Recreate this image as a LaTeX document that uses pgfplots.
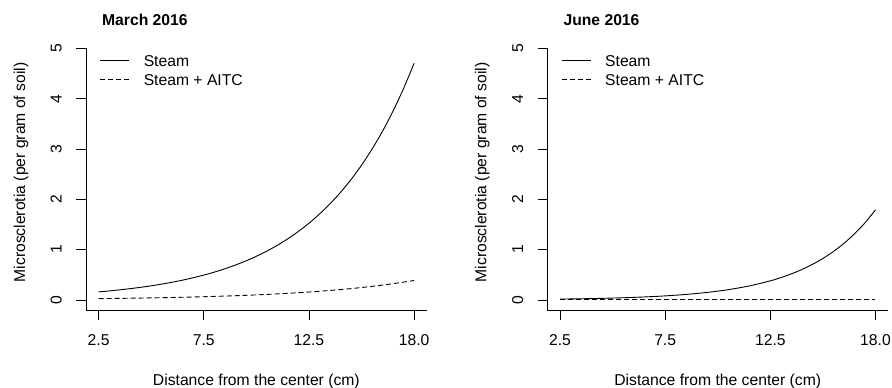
\documentclass[border=0pt]{standalone}
\usepackage{fontspec}
\setmainfont{Liberation Sans}
\usepackage{pgfplots}
\pgfplotsset{compat=1.18}
\usepackage{pgfplotstable}

\pgfplotstableread{
x y
2.5 0.1600
3.0 0.1791
3.5 0.2005
4.0 0.2244
4.5 0.2511
5.0 0.2811
5.5 0.3146
6.0 0.3521
6.5 0.3942
7.0 0.4412
7.5 0.4938
8.0 0.5527
8.5 0.6187
9.0 0.6925
9.5 0.7751
10.0 0.8676
10.5 0.9711
11.0 1.0869
11.5 1.2165
12.0 1.3617
12.5 1.5241
13.0 1.7059
13.5 1.9095
14.0 2.1373
14.5 2.3923
15.0 2.6777
15.5 2.9972
16.0 3.3548
16.5 3.7550
17.0 4.2031
17.5 4.7045
}\marSteam

\pgfplotstableread{
x y
2.5 0.0260
3.5 0.0311
4.5 0.0373
5.5 0.0446
6.5 0.0534
7.5 0.0639
8.5 0.0766
9.5 0.0917
10.5 0.1097
11.5 0.1314
12.5 0.1573
13.5 0.1883
14.5 0.2254
15.5 0.2699
16.5 0.3231
17.5 0.3869
}\marAITC

\pgfplotstableread{
x y
2.5 0.0171
3.5 0.0233
4.5 0.0318
5.5 0.0434
6.5 0.0591
7.5 0.0806
8.5 0.1099
9.5 0.1499
10.5 0.2044
11.5 0.2787
12.5 0.3798
13.0 0.4436
13.5 0.5180
14.0 0.6049
14.5 0.7063
15.0 0.8246
15.5 0.9628
16.0 1.1243
16.5 1.3128
17.0 1.5330
17.5 1.7900
}\junSteam

\pgfplotstableread{
x y
2.5 0.012
7.5 0.012
12.5 0.012
17.5 0.012
}\junAITC

\pgfplotsset{
  rpanel/.style={
    scale only axis, width=340.7bp, height=261.6bp,
    anchor=south west,
    xmin=1.9, xmax=18.1, ymin=-0.2, ymax=5,
    axis x line*=bottom, axis y line*=left,
    axis line style={line width=0.8bp, black},
    tick align=outside, major tick length=9.5bp,
    tick style={line width=0.8bp, black},
    xtick={2.5,7.5,12.5,17.5}, xticklabels={2.5,7.5,12.5,18.0},
    ytick={0,1,2,3,4,5}, yticklabels={0,1,2,3,4,5},
    font=\fontsize{15.7bp}{19bp}\selectfont,
    tick label style={font=\fontsize{15.7bp}{19bp}\selectfont},
    xticklabel style={anchor=base, yshift=-26.2bp},
    yticklabel style={rotate=90, anchor=base, yshift=14.8bp},
    xlabel={Distance from the center (cm)},
    ylabel={Microsclerotia (per gram of soil)},
    xlabel style={at={(axis description cs:0.5,-0.2867)}, anchor=base},
    ylabel style={at={(axis description cs:-0.179,0.526)}, anchor=base},
    title style={at={(axis description cs:0.037,1.064)}, anchor=base west, font=\fontsize{15.7bp}{19bp}\selectfont\bfseries},
    legend image code/.code={\draw[#1] (0bp,1.8bp) -- (29bp,1.8bp); \path (43bp,1.8bp);},
    legend style={draw=none, fill=none, at={(axis description cs:0.0401,0.979)}, anchor=north west,
      inner sep=0pt, legend cell align=left, row sep=3bp,
      nodes={inner sep=0pt, text height=12bp, text depth=4bp},
      font=\fontsize{15.7bp}{19bp}\selectfont},
    every axis plot/.append style={line width=0.9bp, black},
  },
}

\begin{document}
\begin{tikzpicture}
\begin{axis}[rpanel, at={(86bp,78bp)}, title={March 2016}]
\addplot[smooth, no marks] table[x=x,y=y] {\marSteam};
\addlegendentry{Steam}
\addplot[smooth, no marks, dash pattern=on 5bp off 3bp] table[x=x,y=y] {\marAITC};
\addlegendentry{Steam + AITC}
\end{axis}
\begin{axis}[rpanel, at={(547.4bp,78bp)}, title={June 2016}]
\addplot[smooth, no marks] table[x=x,y=y] {\junSteam};
\addlegendentry{Steam}
\addplot[no marks, dash pattern=on 5bp off 3bp] table[x=x,y=y] {\junAITC};
\addlegendentry{Steam + AITC}
\end{axis}
\pgfresetboundingbox
\useasboundingbox (0,0) rectangle (892bp,388bp);
\end{tikzpicture}
\end{document}
